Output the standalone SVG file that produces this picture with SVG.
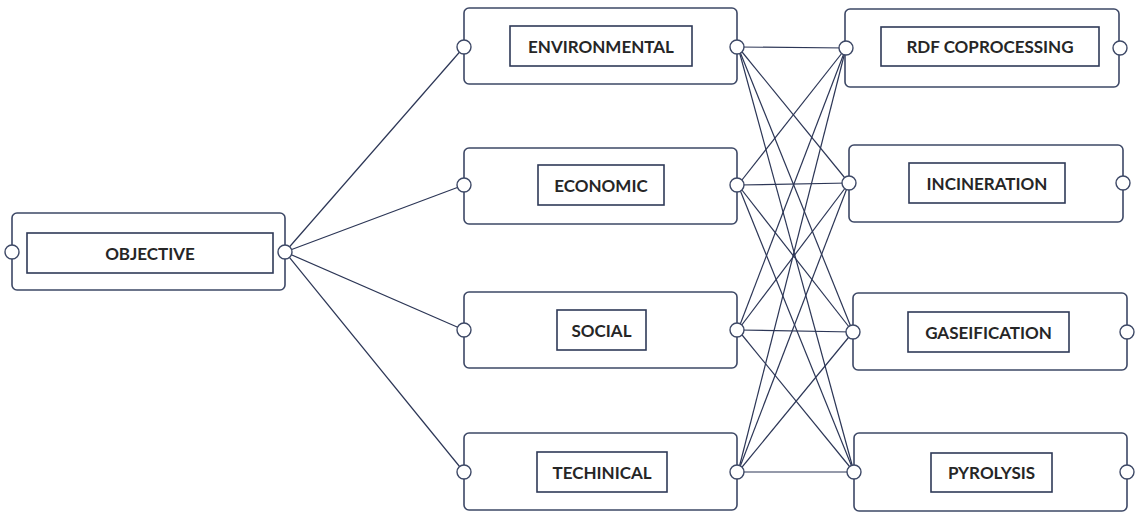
<svg xmlns="http://www.w3.org/2000/svg" width="1138" height="513" viewBox="0 0 1138 513">
<style>
.outer{fill:#fff;stroke:#3d4866;stroke-width:1.6}
.inner{fill:#fff;stroke:#2f3a58;stroke-width:1.6}
.port{fill:#fff;stroke:#3d4866;stroke-width:1.4}
.lbl{font-family:Lato,"Liberation Sans",sans-serif;font-weight:bold;font-size:17px;fill:#262626;text-anchor:middle;dominant-baseline:central}
.con line{stroke:#2c3656;stroke-width:1.2}
</style>
<rect width="1138" height="513" fill="#fff"/>
<g class="con">
<line x1="285" y1="252" x2="464" y2="47"/>
<line x1="285" y1="252" x2="464" y2="185"/>
<line x1="285" y1="252" x2="464" y2="330"/>
<line x1="285" y1="252" x2="464" y2="472"/>
<line x1="738" y1="47" x2="846" y2="48"/>
<line x1="738" y1="47" x2="849" y2="183"/>
<line x1="738" y1="47" x2="853" y2="332"/>
<line x1="738" y1="47" x2="854" y2="472"/>
<line x1="738" y1="185" x2="846" y2="48"/>
<line x1="738" y1="185" x2="849" y2="183"/>
<line x1="738" y1="185" x2="853" y2="332"/>
<line x1="738" y1="185" x2="854" y2="472"/>
<line x1="738" y1="330" x2="846" y2="48"/>
<line x1="738" y1="330" x2="849" y2="183"/>
<line x1="738" y1="330" x2="853" y2="332"/>
<line x1="738" y1="330" x2="854" y2="472"/>
<line x1="738" y1="472" x2="846" y2="48"/>
<line x1="738" y1="472" x2="849" y2="183"/>
<line x1="738" y1="472" x2="853" y2="332"/>
<line x1="738" y1="472" x2="854" y2="472"/>
</g>
<g id="objective">
<rect class="outer" x="12" y="213" width="273" height="77" rx="5"/>
<rect class="inner" x="27" y="233" width="246" height="40"/>
<text class="lbl" x="150" y="253">OBJECTIVE</text>
<circle class="port" cx="12" cy="252" r="7"/>
<circle class="port" cx="285" cy="252" r="7"/>
</g>
<g id="environmental">
<rect class="outer" x="464" y="8" width="273" height="76" rx="5"/>
<rect class="inner" x="510" y="26" width="182" height="40"/>
<text class="lbl" x="601" y="46">ENVIRONMENTAL</text>
<circle class="port" cx="464" cy="47" r="7"/>
<circle class="port" cx="737" cy="47" r="7"/>
</g>
<g id="economic">
<rect class="outer" x="464" y="148" width="273" height="76" rx="5"/>
<rect class="inner" x="538" y="165" width="126" height="40"/>
<text class="lbl" x="601" y="185">ECONOMIC</text>
<circle class="port" cx="464" cy="185" r="7"/>
<circle class="port" cx="737" cy="185" r="7"/>
</g>
<g id="social">
<rect class="outer" x="464" y="292" width="273" height="76" rx="5"/>
<rect class="inner" x="557" y="310" width="89" height="40"/>
<text class="lbl" x="601.5" y="330">SOCIAL</text>
<circle class="port" cx="464" cy="330" r="7"/>
<circle class="port" cx="737" cy="330" r="7"/>
</g>
<g id="techinical">
<rect class="outer" x="464" y="433" width="273" height="77" rx="5"/>
<rect class="inner" x="537" y="452" width="130" height="40"/>
<text class="lbl" x="602" y="472">TECHINICAL</text>
<circle class="port" cx="464" cy="472" r="7"/>
<circle class="port" cx="737" cy="472" r="7"/>
</g>
<g id="rdf">
<rect class="outer" x="845" y="9" width="274" height="78" rx="5"/>
<rect class="inner" x="881" y="27" width="218" height="39"/>
<text class="lbl" x="990" y="46">RDF COPROCESSING</text>
<circle class="port" cx="846" cy="48" r="7"/>
<circle class="port" cx="1120" cy="48" r="7"/>
</g>
<g id="incineration">
<rect class="outer" x="849" y="145" width="274" height="77" rx="5"/>
<rect class="inner" x="909" y="163" width="156" height="40"/>
<text class="lbl" x="987" y="183">INCINERATION</text>
<circle class="port" cx="849" cy="183" r="7"/>
<circle class="port" cx="1123" cy="183" r="7"/>
</g>
<g id="gaseification">
<rect class="outer" x="853" y="293" width="274" height="77" rx="5"/>
<rect class="inner" x="908" y="312" width="161" height="40"/>
<text class="lbl" x="988.5" y="332">GASEIFICATION</text>
<circle class="port" cx="853" cy="332" r="7"/>
<circle class="port" cx="1127" cy="332" r="7"/>
</g>
<g id="pyrolysis">
<rect class="outer" x="854" y="433" width="273" height="78" rx="5"/>
<rect class="inner" x="931" y="453" width="121" height="39"/>
<text class="lbl" x="991.5" y="472">PYROLYSIS</text>
<circle class="port" cx="854" cy="472" r="7"/>
<circle class="port" cx="1127" cy="472" r="7"/>
</g>
</svg>
